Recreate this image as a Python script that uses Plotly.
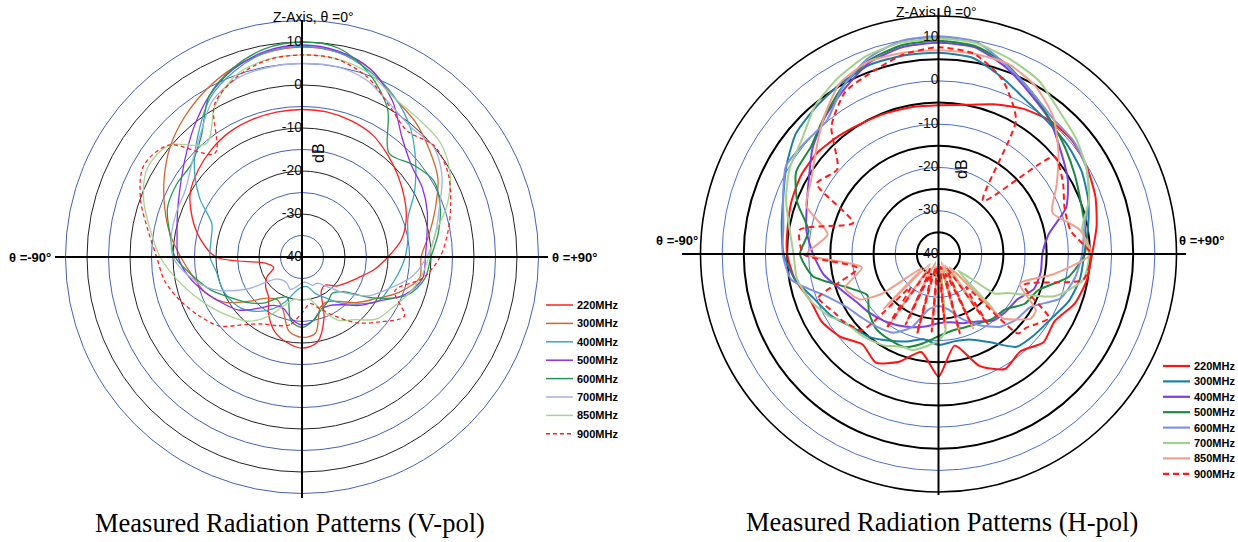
import plotly.graph_objects as go

W, H = 1238, 542

FREQS = ["220MHz", "300MHz", "400MHz", "500MHz", "600MHz", "700MHz", "850MHz", "900MHz"]

# sampling angles (degrees, 0 = Z-axis, clockwise towards +90)
ANGLES = list(range(-180, 180, 10))
H_FRONT = list(range(-120, 121, 10))
H_BACK = list(range(125, 236, 5))

# ---- V-pol measured gain (dB) on ANGLES ----
V_220 = [-18.8, -19.8, -21.5, -24.5, -27.9, -29, -30.5, -33, -31.5, -20, -16, -12.8, -10, -8.5, -7.3, -6.4, -6, -5.8,
         -5.7, -5.8, -6.3, -7.2, -9, -10.8, -12.5, -14.2, -16.5, -20, -23, -26, -28, -29.5, -31.5, -31, -25, -19.8]
V_300 = [-21.3, -22.5, -27, -28.5, -27.5, -24, -19, -16, -14.2, -11.8, -8.8, -6, -3, 0, 2.5, 4.8, 6.8, 8.2,
         8.8, 8.3, 6.5, 2.8, 1, -1.3, -3.5, -7, -10, -12.3, -12.2, -16, -20.5, -23.5, -26.5, -28, -27.5, -22]
V_400 = [-33, -32, -29, -26, -23.5, -21.5, -20.5, -20, -19.8, -18.6, -18.5, -17.7, -12.5, -7.3, -2.5, 2.7, 6, 8.3,
         9, 8.3, 6, 3, -0.8, -5.5, -9.8, -13.8, -15, -16, -17.3, -18.5, -19.5, -23, -26, -29, -31, -33]
V_500 = [-24.2, -25.5, -27.3, -27, -24.5, -20.8, -18.6, -16, -13.3, -11.2, -10.5, -9.2, -7.3, -4.5, -0.8, 3.2, 6.5, 8.6,
         9.3, 8.6, 6.5, 2, -3.8, -6.8, -7.7, -9, -10.5, -11.3, -11.5, -14.5, -19.5, -22.5, -25.5, -27, -27, -25]
V_600 = [-23.6, -25, -30, -29, -26, -23.5, -21, -17.5, -14.3, -10.5, -8.8, -6.7, -6.3, -6.4, -3.5, 3.2, 6.8, 9.2,
         10, 9.3, 5.5, -0.2, -8.5, -6.5, -4.6, -5.8, -7.8, -10, -11, -14, -21, -27.5, -29, -28, -27, -25]
V_700 = [-34, -33, -32, -33, -33, -32, -25, -18, -13.5, -10, -9.2, -9, -8.7, -6.5, -3.1, 1.8, 4.2, 4.8,
         5, 5, 3.8, 1, -0.6, -0.1, -2.4, -6, -8.5, -11, -14, -18.5, -22, -27, -31, -33, -33, -34]
V_850 = [-30, -30, -28, -24, -20.5, -18.4, -16.1, -13.5, -10.4, -7, -4.2, -0.8, 1.5, 0.4, -5.5, 0.5, 5, 6.6,
         7, 6.8, 5.5, 2.8, 2, 1.8, -0.3, -4, -8.5, -10.5, -12, -14, -16, -17.5, -21, -23, -27, -30]
V_900 = [-27, -24, -23, -22, -19.5, -15, -12.5, -10, -7.6, -6.2, -3.6, 0, 2.5, 0.5, -8.5, 0.8, 4.5, 6.5,
         7, 6.7, 4.5, 0.6, -1.8, 0.2, -0.8, -3.2, -5.5, -7.9, -11.5, -17, -12.5, -16.5, -20, -24, -27, -29]

# ---- H-pol measured gain (dB) on ANGLES ----
H_220 = [-11.7, -17, -13.5, -11, -12.7, -10.3, -8.8, -8.5, -6.3, -5, -4.6, -3.9, -3.4, -3.5, -4.3, -5, -5.3, -5.5,
         -5.6, -5, -3.2, -1.2, 0.2, 0.5, -0.3, -1.4, -2.9, -4.5, -5.2, -6.5, -9, -8.3, -10.6, -9.3, -12.5, -18.5]
H_300 = [-19, -20, -18.5, -16.9, -15, -13.8, -11.4, -9.5, -6.3, -4.2, -3.2, -1.8, 0.6, 3.1, 4.2, 5.4, 6.5, 6.6,
         6.5, 6, 3.3, 0.8, -0.4, -1, -1.8, -3.2, -4.9, -6.3, -6.8, -8, -10, -11, -12, -16.5, -19, -19.5]
H_400 = [-24, -23, -22, -21, -20, -19, -18, -16, -13, -11, -9, -7.6, -5.4, -2, 1, 3.8, 7, 8.5,
         8.8, 8.5, 5.8, 2.6, 0.1, -3.1, -5.5, -8.6, -14.2, -16, -16, -16.5, -19, -19.5, -20, -22, -23, -24]
H_500 = [-21, -19, -17.1, -17.2, -17.5, -19, -21, -17.5, -10.5, -8, -9.5, -5.3, -2, -1.5, 1.2, 4.5, 7.5, 9,
         9.3, 8.8, 6.5, 3.1, 0.3, -1.8, -3.6, -5, -5.6, -6.2, -9.5, -15.5, -17, -20, -20.5, -21.5, -22, -22]
H_600 = [-28, -27, -22, -19, -18, -17, -15.5, -12, -5.5, -4, -3.6, -1.8, 0.7, 0.2, 0.2, 4.4, 8, 10,
         10.3, 9.8, 6.3, 3.2, 1, 0.7, -0.5, -3, -5.8, -6.8, -8, -10, -15.5, -16.5, -18, -21, -24, -27]
# spiky patterns: front on H_FRONT, back lobe region on H_BACK
H_700_FRONT = [-11, -8.5, -6.8, -6.5, -5, -2.5, -0.3, 1.2, 4.5, 6.8, 8.7, 9.6, 9.8,
               9.5, 8, 6.3, 3.3, 1.5, -0.5, -3, -6.3, -5.2, -6, -11.5, -22]
H_700_BACK = [-24, -34, -22, -36, -24, -36, -25, -37, -24, -36, -22, -20, -19, -18, -17, -17,
              -16.5, -15.5, -15, -14.5, -14, -13.7, -13]
H_850_FRONT = [-19, -17, -22, -9.6, -14, -7.5, -6, -3, 1.2, 5.6, 7.3, 7.2, 7.1,
               7, 6.8, 4.8, 1.3, -3.8, -8.5, -12, -7, -4.8, -13, -20, -14]
H_850_BACK = [-14, -16.5, -19, -36, -22, -37, -21, -38, -22, -37, -23, -38, -22, -37, -21, -38,
              -23, -36, -21, -37, -22, -35, -24]
H_900_FRONT = [-12.5, -10.5, -21, -8.8, -7.5, -19, -7.5, -9.5, -1.5, 3.2, 4.8, 6.8, 7.8,
               7, 3, -4.2, -24, -5, -6.8, -9, -9, -4.8, -6, -19, -10.5]
H_900_BACK = [-12, -13.5, -14, -30, -20, -36, -22, -35, -21, -37, -24, -36, -22, -37, -21, -35,
              -22, -36, -19, -30, -15, -14, -13]

RING_TICKS = [10, 0, -10, -20, -30, -40]
TICK_TEXT = ["10", "0", "-10", "-20", "-30", "-40"]

V_COLORS = ["#ff1f1f", "#d3652c", "#3aa6c6", "#8e2cf0", "#1f9a50", "#a3b1e8", "#a8d590", "#ff1f1f"]
H_COLORS = ["#ff1414", "#1c7fa6", "#7b3fe3", "#1b8a3d", "#7f92e2", "#a3d08a", "#f2a08d", "#ff1a1a"]
V_DASH = ["solid"] * 7 + ["4px,3px"]
H_DASH = ["solid"] * 7 + ["6px,4px"]

# panel geometry in pixels
L_CX, L_CY, L_R = 302, 257, 236.5
R_CX, R_CY, R_R = 938.5, 254, 238

FONT = "Liberation Sans, Arial, sans-serif"
SERIF = "Liberation Serif, Times New Roman, serif"


def fx(x):
    return x / W


def fy(y):
    return 1 - y / H


def domain(cx, cy, rad):
    return dict(x=[fx(cx - rad), fx(cx + rad)], y=[fy(cy + rad), fy(cy - rad)])


def closed(theta, r):
    return list(theta) + [theta[0]], list(r) + [r[0]]


def polar_layout(dom, rings, ring_color, ring_width, outer=None):
    ang = dict(rotation=90, direction="clockwise", showgrid=False, showticklabels=False, ticks="")
    if outer:
        ang.update(showline=True, linecolor=outer[0], linewidth=outer[1])
    else:
        ang.update(showline=False)
    return dict(
        domain=dom, bgcolor="rgba(0,0,0,0)",
        radialaxis=dict(range=[-40, 15], tickvals=rings, showticklabels=False, ticks="",
                        showline=False, gridcolor=ring_color, gridwidth=ring_width),
        angularaxis=ang,
    )


fig = go.Figure()

# placeholder traces so the underlying ring layers get drawn
for sp in ("polar", "polar3"):
    fig.add_trace(go.Scatterpolar(theta=[0], r=[-40], mode="markers", subplot=sp,
                                  marker=dict(opacity=0), hoverinfo="skip"))

v_series = [V_220, V_300, V_400, V_500, V_600, V_700, V_850, V_900]
for i, vals in enumerate(v_series):
    t, r = closed(ANGLES, vals)
    fig.add_trace(go.Scatterpolar(
        theta=t, r=r, mode="lines", subplot="polar2", name=FREQS[i], hoverinfo="skip",
        line=dict(color=V_COLORS[i], width=1.3, dash=V_DASH[i], shape="spline", smoothing=0.9)))

h_series = [
    (ANGLES, H_220), (ANGLES, H_300), (ANGLES, H_400), (ANGLES, H_500), (ANGLES, H_600),
    (H_FRONT + H_BACK, H_700_FRONT + H_700_BACK),
    (H_FRONT + H_BACK, H_850_FRONT + H_850_BACK),
    (H_FRONT + H_BACK, H_900_FRONT + H_900_BACK),
]
for i, (ang, vals) in enumerate(h_series):
    t, r = closed(ang, vals)
    fig.add_trace(go.Scatterpolar(
        theta=t, r=r, mode="lines", subplot="polar4", name=FREQS[i], hoverinfo="skip",
        line=dict(color=H_COLORS[i], width=2, dash=H_DASH[i], shape="spline", smoothing=0.6)))

# dB labels along the Z axis
for sp in ("polar2", "polar4"):
    fig.add_trace(go.Scatterpolar(
        theta=[0] * len(RING_TICKS), r=RING_TICKS, text=TICK_TEXT, mode="text",
        textposition="middle left", subplot=sp, hoverinfo="skip", cliponaxis=False,
        textfont=dict(family=FONT, size=14, color="#111111")))

BLACK = "#000000"
BLUE_L = "#4462b4"
BLUE_R = "#4a6fd6"

fig.update_layout(
    width=W, height=H, margin=dict(l=0, r=0, t=0, b=0),
    paper_bgcolor="white", plot_bgcolor="white", showlegend=False,
    polar=polar_layout(domain(L_CX, L_CY, L_R), [-30, -20, -10, 0, 10], "#222222", 1),
    polar2=polar_layout(domain(L_CX, L_CY, L_R), [-35, -25, -15, -5, 5], BLUE_L, 1, outer=(BLUE_L, 1)),
    polar3=polar_layout(domain(R_CX, R_CY, R_R), [-35, -25, -15, -5, 5], BLACK, 1.6, outer=(BLACK, 1.6)),
    polar4=polar_layout(domain(R_CX, R_CY, R_R), [-30, -20, -10, 0, 10], BLUE_R, 0.8),
)

shapes = []
# coordinate cross of each panel
for cx, cy, x0, x1, y0, y1 in [(L_CX, L_CY, 55, 548, 20, 498), (R_CX, R_CY, 682, 1186, 8, 495)]:
    shapes.append(dict(type="line", xref="paper", yref="paper", x0=fx(cx), x1=fx(cx), y0=fy(y0), y1=fy(y1),
                       line=dict(color="black", width=2), layer="above"))
    shapes.append(dict(type="line", xref="paper", yref="paper", x0=fx(x0), x1=fx(x1), y0=fy(cy), y1=fy(cy),
                       line=dict(color="black", width=2), layer="above"))

annotations = []


def note(x, y, text, size, bold=False, xanchor="center", angle=0, family=FONT):
    annotations.append(dict(
        x=fx(x), y=fy(y), xref="paper", yref="paper", text=f"<b>{text}</b>" if bold else text,
        showarrow=False, xanchor=xanchor, yanchor="middle", textangle=angle,
        font=dict(family=family, size=size, color="black")))


note(313, 17, "Z-Axis, θ =0°", 14)
note(936, 12, "Z-Axis, θ =0°", 14)
note(318, 153, "dB", 16, angle=-90)
note(961, 169, "dB", 16, angle=-90)
note(7, 257, "θ =-90°", 13, bold=True, xanchor="left")
note(550, 257, "θ =+90°", 13, bold=True, xanchor="left")
note(654, 241, "θ =-90°", 13, bold=True, xanchor="left")
note(1177, 241, "θ =+90°", 13, bold=True, xanchor="left")
note(290, 523, "Measured Radiation Patterns (V-pol)", 26.5, family=SERIF)
note(942, 522, "Measured Radiation Patterns (H-pol)", 26.5, family=SERIF)

# legends
for (lx0, lx1, ly0, step, colors, dashes, width) in [
    (546, 573, 305, 18.4, V_COLORS, V_DASH, 1.5),
    (1163, 1190, 366, 15.4, H_COLORS, H_DASH, 2.2),
]:
    for i, name in enumerate(FREQS):
        y = ly0 + step * i
        shapes.append(dict(type="line", xref="paper", yref="paper", x0=fx(lx0), x1=fx(lx1), y0=fy(y), y1=fy(y),
                           line=dict(color=colors[i], width=width, dash=dashes[i])))
        note(lx1 + 2, y, name, 11, bold=True, xanchor="left")

fig.update_layout(shapes=shapes, annotations=annotations)

fig.write_html("out.html")
